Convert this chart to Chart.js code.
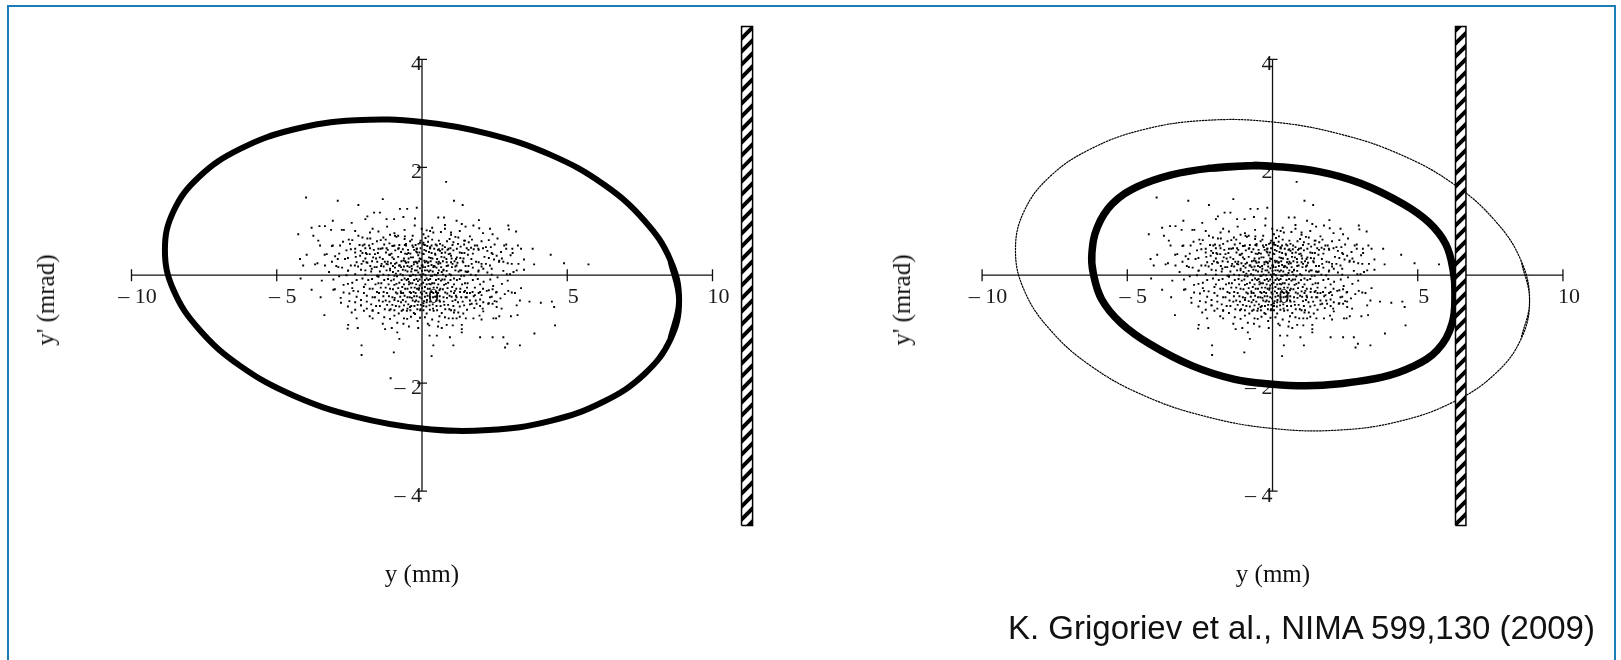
<!DOCTYPE html>
<html>
<head>
<meta charset="utf-8">
<title>Beam scraping</title>
<script src="https://cdn.jsdelivr.net/npm/chart.js"></script>
<style>
  body { margin: 0; width: 1621px; height: 660px; background: #fff; position: relative; overflow: hidden; }
  #frame { position: absolute; left: 7px; top: 5px; width: 1605px; height: 700px; border: 2px solid #1b7db5; border-bottom: none; }
  .panel { position: absolute; top: 0; }
  .ytitle, .xtitle { position: absolute; font-family: 'Liberation Serif', 'Times New Roman', serif; font-size: 25px; color: #111; white-space: nowrap; }
  .ytitle { transform: translate(-50%, -50%) rotate(-90deg); }
  .xtitle { transform: translate(-50%, -50%); }
  #cite { position: absolute; left: 1008px; top: 610px; font-family: 'Liberation Sans', Arial, sans-serif; font-size: 33px; color: #111; white-space: nowrap; line-height: 36px; }
</style>
</head>
<body>
<div id="frame"></div>
<div class="panel" style="left:0"><canvas id="leftChart" width="810" height="660"></canvas></div>
<div class="panel" style="left:810px"><canvas id="rightChart" width="811" height="660"></canvas></div>
<div class="ytitle" style="left:46px; top:300px">y' (mrad)</div>
<div class="ytitle" style="left:902px; top:300px">y' (mrad)</div>
<div class="xtitle" style="left:422px; top:574px">y (mm)</div>
<div class="xtitle" style="left:1273px; top:574px">y (mm)</div>
<div id="cite">K. Grigoriev et al., NIMA 599,130 (2009)</div>

<script>
// tick values: y in mm, y' in mrad
const xTicks = [-10, -5, 0, 5, 10];
const yTicks = [-4, -2, 0, 2, 4];

// beam ellipse before scraping (solid on the left, dotted on the right)
const ellipseInitial = [
    [8.85, -0.47], [8.55, -1.19], [7.66, -1.83], [6.26, -2.34], [4.43, -2.7], [2.29, -2.87],
    [0, -2.84], [-2.29, -2.62], [-4.43, -2.23], [-6.26, -1.68], [-7.66, -1.01], [-8.55, -0.28],
    [-8.85, 0.47], [-8.55, 1.19], [-7.66, 1.83], [-6.26, 2.34], [-4.43, 2.7], [-2.29, 2.87],
    [0, 2.84], [2.29, 2.62], [4.43, 2.23], [6.26, 1.68], [7.66, 1.01], [8.55, 0.28]
];

// ellipse after scraping (right panel, thick)
const ellipseScraped = [
    [-0.73, 2.03], [0, 2.02], [1.6, 1.92], [3.05, 1.7], [4.5, 1.32], [5.38, 0.98], [5.96, 0.58], [6.22, 0.09],
    [6.28, -0.34], [6.18, -0.9], [5.67, -1.39], [4.8, -1.7], [3.78, -1.89], [2.32, -2.01], [1.16, -2.05], [0, -2.02],
    [-1.3, -1.93], [-2.76, -1.68], [-4.21, -1.28], [-5.23, -0.88], [-5.88, -0.45], [-6.17, 0.03], [-6.22, 0.4], [-6.03, 0.89],
    [-5.52, 1.32], [-4.65, 1.64], [-3.48, 1.86], [-2.18, 1.98]
];

// scraper jaw (mm) and its vertical extent (mrad)
const jawLeftX = [11.0, 11.38];
const jawRightX = [6.3, 6.66];
const jawY = [-4.64, 4.61];

// particles, same sample in both panels
const particles = [
    [-3.99, 1.44], [-2.9, 1.38], [-2.19, 1.3], [-1.35, 1.41], [0.83, 1.73], [-4.26, 0.76], [-3.8, 0.88], [-3.53, 0.91],
    [-3.34, 0.91], [-3.07, 1.01], [-3.13, 0.84], [-2.76, 0.84], [-2.69, 0.84], [-2.42, 0.97], [-1.88, 1.09], [-1.65, 1.16],
    [-1.45, 1.16], [-1.22, 1.04], [-0.96, 1.04], [-0.76, 1.23], [-0.51, 1.23], [-0.18, 1.25], [-0.24, 1.05], [-0.64, 1.08],
    [-1.95, 1.04], [-3.74, 0.73], [-3.57, 0.64], [-3.51, 0.55], [-3.07, 0.55], [-2.82, 0.55], [-2.48, 0.58], [-2.52, 0.66],
    [-2.19, 0.73], [-1.88, 0.68], [-1.79, 0.79], [-1.5, 0.81], [-1.33, 0.7], [-1.1, 0.75], [-0.93, 0.73], [-0.82, 0.73],
    [-0.59, 0.72], [-0.32, 0.73], [-0.01, 0.86], [0.16, 0.83], [0.28, 0.82], [0.39, 0.79], [0.79, 0.86], [0.56, 1.07],
    [0.76, 1.07], [0.79, 0.93], [0.22, 0.72], [0.05, 0.6],
    [-4.2, 0.3], [-4.09, 0.18], [-3.97, 0.38], [-3.68, 0.2], [-3.28, 0.39], [-3.34, 0.18], [-2.99, 0.35], [-2.88, 0.15],
    [-2.65, 0.3], [-2.54, 0.09], [-2.13, 0.36], [-2.11, 0.45], [-2.04, 0.55], [-1.93, 0.41], [-1.79, 0.5], [-1.62, 0.39],
    [-1.54, 0.25], [-1.42, 0.49], [-1.22, 0.5], [-1.1, 0.38], [-0.99, 0.54], [-0.82, 0.49], [-0.59, 0.56], [-0.47, 0.41],
    [-0.3, 0.52], [-0.18, 0.49], [-0.07, 0.6], [0.1, 0.56], [0.28, 0.52], [0.51, 0.55], [0.62, 0.45], [0.79, 0.52],
    [0.91, 0.49], [-2.31, 0.18], [-2.08, 0.21], [-1.91, 0.24], [-1.73, 0.12], [-1.56, 0.15], [-1.39, 0.21], [-1.22, 0.21],
    [-1.1, 0.12], [-0.93, 0.21], [-0.76, 0.18], [-0.64, 0.27], [-0.47, 0.24], [-0.35, 0.12], [-0.18, 0.24], [-0.01, 0.18],
    [0.1, 0.09], [0.22, 0.24], [0.39, 0.15], [0.56, 0.21], [0.74, 0.09], [0.85, 0.24],
    [1.1, 1.38], [1.4, 1.3], [1.0, 0.79], [1.19, 1.01], [1.37, 0.95], [1.77, 0.92], [1.96, 1.02], [1.97, 0.87],
    [2.34, 0.86], [2.43, 0.76], [2.97, 0.92], [2.99, 0.85], [3.24, 0.81], [1.08, 0.61], [1.25, 0.7], [1.48, 0.64],
    [1.65, 0.72], [1.82, 0.55], [1.54, 0.5], [1.69, 0.51], [1.94, 0.49], [2.2, 0.52], [2.25, 0.45], [2.43, 0.39],
    [2.57, 0.36], [2.83, 0.55], [3.11, 0.49], [3.12, 0.41], [3.41, 0.49], [3.81, 0.49], [4.43, 0.38], [2.66, 0.27],
    [2.8, 0.25], [3.09, 0.21], [3.32, 0.21], [3.51, 0.29], [3.86, 0.2], [4.89, 0.22], [5.73, 0.2], [3.26, 0.09],
    [3.51, 0.1], [3.03, 0.02], [2.92, 0.02], [2.05, 0.21], [2.34, 0.18], [2.11, 0.12], [1.71, 0.21], [1.42, 0.24],
    [1.19, 0.18], [1.31, 0.09], [1.59, 0.07], [1.94, 0.07], [1.0, 0.36], [1.17, 0.3], [1.37, 0.41],
    [-3.8, -0.27], [-3.49, -0.41], [-3.36, -0.74], [-3.05, -0.27], [-2.79, -0.51], [-2.54, -0.92], [-2.56, -0.99], [-2.21, -0.98],
    [-2.42, -0.69], [-2.25, -0.8], [-2.1, -0.56], [-2.36, -0.29], [-2.08, -1.3], [-2.08, -1.48], [-1.7, -0.8], [-1.7, -0.66],
    [-1.35, -0.9], [-1.27, -1.0], [-1.1, -0.81], [-1.04, -0.98], [-0.85, -1.06], [-0.78, -1.18], [-0.97, -1.43], [-1.08, -1.91],
    [-0.64, -0.9], [-0.51, -0.81], [-0.24, -0.72], [-0.41, -0.59], [-0.7, -0.66], [-0.13, -0.98], [-0.07, -0.79], [0.25, -0.93],
    [0.26, -1.12], [0.51, -1.12], [0.57, -0.86], [0.68, -0.98], [0.39, -1.3], [0.33, -1.5], [0.79, -0.78], [0.85, -0.92],
    [-4.18, -0.06],
    [1.06, -0.93], [1.37, -0.92], [1.37, -1.0], [1.37, -1.06], [0.96, -1.15], [2.0, -1.15], [2.43, -1.15], [2.8, -1.15],
    [1.08, -1.3], [2.86, -1.34], [2.94, -1.27], [3.37, -1.3], [3.87, -1.08], [4.58, -0.93], [3.06, -0.76], [3.29, -0.74],
    [2.74, -0.62], [2.66, -0.76], [2.46, -0.8], [2.55, -0.8], [2.09, -0.62], [2.11, -0.67], [1.98, -0.75], [2.05, -0.82],
    [1.77, -0.8], [1.51, -0.8], [1.19, -0.8], [1.06, -0.8], [1.25, -0.69], [1.1, -0.69], [1.71, -0.53], [1.88, -0.53],
    [1.65, -0.47], [2.11, -0.5], [2.28, -0.53], [2.43, -0.53], [2.57, -0.49], [3.26, -0.56], [3.37, -0.47], [3.7, -0.49],
    [4.09, -0.51], [4.47, -0.49], [4.55, -0.59], [2.97, -0.29], [3.09, -0.32], [3.2, -0.33], [3.41, -0.24], [2.57, -0.31],
    [2.43, -0.26], [2.23, -0.29], [2.0, -0.31], [1.82, -0.37], [1.65, -0.33], [1.48, -0.29], [1.31, -0.31], [1.13, -0.29],
    [1.19, -0.41], [1.54, -0.41], [2.34, -0.41], [2.57, -0.59],
    // dense core
    [-2.05, 0.7], [-1.42, 0.65], [-0.88, 0.71], [-0.35, 0.66], [0.12, 0.69], [0.58, 0.64], [1.15, 0.71], [1.72, 0.66], [2.6, 0.68],
    [-2.72, 0.62], [-1.98, 0.57], [-1.55, 0.63], [-1.12, 0.59], [-0.78, 0.56], [-0.41, 0.63], [-0.12, 0.58], [0.21, 0.62],
    [0.47, 0.57], [0.86, 0.63], [1.24, 0.58], [1.61, 0.61], [2.05, 0.63], [2.9, 0.57],
    [-3.1, 0.54], [-2.3, 0.49], [-1.82, 0.55], [-1.36, 0.5], [-1.02, 0.54], [-0.66, 0.48], [-0.33, 0.55], [-0.05, 0.5],
    [0.18, 0.54], [0.42, 0.49], [0.71, 0.55], [0.98, 0.5], [1.33, 0.53], [1.78, 0.48], [2.37, 0.52], [3.3, 0.55],
    [-2.6, 0.46], [-2.05, 0.41], [-1.66, 0.47], [-1.24, 0.42], [-0.92, 0.46], [-0.58, 0.4], [-0.27, 0.47], [-0.09, 0.42],
    [0.14, 0.45], [0.33, 0.41], [0.55, 0.47], [0.8, 0.42], [1.08, 0.46], [1.46, 0.41], [1.95, 0.47], [2.72, 0.43],
    [-3.35, 0.38], [-2.28, 0.34], [-1.8, 0.39], [-1.45, 0.33], [-1.13, 0.38], [-0.82, 0.34], [-0.52, 0.39], [-0.31, 0.33],
    [-0.13, 0.37], [0.06, 0.39], [0.24, 0.33], [0.46, 0.38], [0.67, 0.34], [0.92, 0.39], [1.2, 0.33], [1.58, 0.38],
    [2.15, 0.34], [3.05, 0.37],
    [-2.9, 0.3], [-2.02, 0.26], [-1.58, 0.31], [-1.28, 0.25], [-0.97, 0.3], [-0.71, 0.26], [-0.46, 0.31], [-0.22, 0.25],
    [-0.04, 0.3], [0.15, 0.26], [0.36, 0.31], [0.58, 0.25], [0.84, 0.3], [1.12, 0.26], [1.43, 0.31], [1.86, 0.25], [2.48, 0.29],
    [-3.6, 0.22], [-2.45, 0.18], [-1.88, 0.23], [-1.41, 0.17], [-1.07, 0.22], [-0.79, 0.18], [-0.55, 0.23], [-0.36, 0.17],
    [-0.16, 0.22], [0.02, 0.18], [0.2, 0.23], [0.41, 0.17], [0.63, 0.22], [0.9, 0.18], [1.22, 0.23], [1.6, 0.17],
    [2.2, 0.21], [2.95, 0.22],
    [-2.75, 0.14], [-2.1, 0.1], [-1.63, 0.15], [-1.22, 0.09], [-0.93, 0.14], [-0.66, 0.1], [-0.43, 0.15], [-0.24, 0.09],
    [-0.07, 0.13], [0.11, 0.15], [0.29, 0.09], [0.5, 0.14], [0.74, 0.1], [1.03, 0.15], [1.35, 0.09], [1.75, 0.14], [2.4, 0.12],
    [-3.2, 0.06], [-2.3, 0.02], [-1.75, 0.07], [-1.33, 0.01], [-1.0, 0.06], [-0.74, 0.02], [-0.5, 0.07], [-0.31, 0.01],
    [-0.13, 0.05], [0.05, 0.02], [0.24, 0.07], [0.44, 0.01], [0.68, 0.06], [0.95, 0.02], [1.26, 0.07], [1.68, 0.01],
    [2.25, 0.05], [3.15, 0.06],
    [-2.85, -0.02], [-2.05, -0.06], [-1.55, -0.01], [-1.17, -0.07], [-0.86, -0.02], [-0.6, -0.06], [-0.38, -0.01], [-0.19, -0.07],
    [-0.02, -0.03], [0.16, -0.06], [0.35, -0.01], [0.57, -0.07], [0.82, -0.02], [1.1, -0.06], [1.45, -0.01], [1.92, -0.07], [2.6, -0.04],
    [-3.45, -0.1], [-2.4, -0.14], [-1.85, -0.09], [-1.4, -0.15], [-1.06, -0.1], [-0.78, -0.14], [-0.53, -0.09], [-0.33, -0.15],
    [-0.14, -0.11], [0.04, -0.14], [0.22, -0.09], [0.42, -0.15], [0.65, -0.1], [0.9, -0.14], [1.2, -0.09], [1.57, -0.15],
    [2.12, -0.12], [2.95, -0.1],
    [-2.7, -0.18], [-2.0, -0.22], [-1.6, -0.17], [-1.25, -0.23], [-0.95, -0.18], [-0.68, -0.22], [-0.45, -0.17], [-0.25, -0.23],
    [-0.08, -0.19], [0.1, -0.22], [0.3, -0.17], [0.52, -0.23], [0.76, -0.18], [1.04, -0.22], [1.38, -0.17], [1.82, -0.23], [2.45, -0.2],
    [-3.0, -0.26], [-2.2, -0.3], [-1.7, -0.25], [-1.32, -0.31], [-1.0, -0.26], [-0.73, -0.3], [-0.5, -0.25], [-0.29, -0.31],
    [-0.11, -0.27], [0.08, -0.3], [0.27, -0.25], [0.48, -0.31], [0.72, -0.26], [1.0, -0.3], [1.32, -0.25], [1.74, -0.31], [2.3, -0.28],
    [-2.5, -0.34], [-1.9, -0.38], [-1.48, -0.33], [-1.14, -0.39], [-0.85, -0.34], [-0.6, -0.38], [-0.38, -0.33], [-0.18, -0.39],
    [0.0, -0.35], [0.19, -0.38], [0.39, -0.33], [0.61, -0.39], [0.87, -0.34], [1.17, -0.38], [1.55, -0.33], [2.05, -0.37], [2.85, -0.35],
    [-2.8, -0.42], [-2.1, -0.46], [-1.62, -0.41], [-1.25, -0.47], [-0.94, -0.42], [-0.66, -0.46], [-0.42, -0.41], [-0.2, -0.47],
    [-0.02, -0.43], [0.17, -0.46], [0.38, -0.41], [0.6, -0.47], [0.86, -0.42], [1.15, -0.46], [1.5, -0.41], [2.0, -0.45], [2.7, -0.43],
    [-2.3, -0.5], [-1.75, -0.54], [-1.35, -0.49], [-1.02, -0.55], [-0.72, -0.5], [-0.47, -0.54], [-0.24, -0.49], [-0.04, -0.55],
    [0.16, -0.5], [0.37, -0.54], [0.62, -0.49], [0.9, -0.55], [1.24, -0.5], [1.65, -0.54], [2.3, -0.52],
    [-2.55, -0.58], [-1.9, -0.62], [-1.45, -0.57], [-1.08, -0.63], [-0.78, -0.58], [-0.5, -0.62], [-0.26, -0.57], [-0.05, -0.63],
    [0.15, -0.58], [0.38, -0.62], [0.64, -0.57], [0.94, -0.63], [1.3, -0.58], [1.8, -0.61],
    [-2.0, -0.66], [-1.5, -0.7], [-1.12, -0.65], [-0.8, -0.71], [-0.52, -0.66], [-0.28, -0.7], [-0.06, -0.65], [0.16, -0.71],
    [0.4, -0.66], [0.68, -0.7], [1.0, -0.65], [1.42, -0.71],
    [-0.9, 0.03], [-0.62, 0.16], [-0.28, 0.2], [0.08, 0.27], [0.33, 0.19], [0.55, 0.04], [0.78, -0.08], [-0.45, -0.12],
    [-0.1, -0.24], [0.25, -0.16], [0.6, -0.28], [-0.72, -0.33], [-0.35, -0.42], [0.45, -0.4], [-1.18, 0.2], [1.05, 0.21],
    [-0.2, 0.44], [0.28, 0.5], [-0.55, 0.55], [0.7, 0.48], [-0.95, -0.46], [0.05, -0.52], [0.95, -0.38], [-1.5, -0.03], [1.55, 0.06],
    // second pass over the core
    [-1.7, 0.86], [-1.2, 0.9], [-0.6, 0.84], [-0.25, 0.92], [0.35, 0.88], [0.65, 0.8], [1.3, 0.82], [1.5, 0.9], [2.1, 0.78],
    [-2.3, 0.82], [-0.95, 0.78], [0.05, 0.76], [1.0, 0.75],
    [-2.4, 0.65], [-1.78, 0.68], [-1.25, 0.66], [-0.6, 0.67], [-0.05, 0.64], [0.35, 0.66], [0.95, 0.67], [1.45, 0.64], [2.3, 0.65],
    [-2.15, 0.56], [-1.7, 0.58], [-1.3, 0.57], [-0.95, 0.55], [-0.55, 0.58], [-0.22, 0.56], [0.05, 0.57], [0.33, 0.55],
    [0.62, 0.58], [1.05, 0.56], [1.45, 0.57], [1.9, 0.55], [2.5, 0.57],
    [-2.45, 0.48], [-1.95, 0.5], [-1.5, 0.49], [-1.18, 0.47], [-0.8, 0.5], [-0.48, 0.47], [-0.18, 0.49], [0.08, 0.47],
    [0.28, 0.5], [0.58, 0.48], [0.88, 0.47], [1.2, 0.49], [1.6, 0.47], [2.1, 0.5], [2.9, 0.49],
    [-2.85, 0.4], [-2.3, 0.42], [-1.9, 0.39], [-1.52, 0.41], [-1.05, 0.4], [-0.72, 0.43], [-0.4, 0.4], [-0.17, 0.42],
    [0.02, 0.4], [0.24, 0.43], [0.45, 0.4], [0.68, 0.41], [0.97, 0.4], [1.3, 0.42], [1.75, 0.4], [2.4, 0.41],
    [-2.55, 0.32], [-1.95, 0.31], [-1.68, 0.33], [-1.35, 0.3], [-1.02, 0.33], [-0.62, 0.31], [-0.38, 0.33], [-0.08, 0.31],
    [0.3, 0.32], [0.52, 0.3], [0.77, 0.33], [1.02, 0.31], [1.32, 0.32], [1.7, 0.3], [2.3, 0.32], [2.75, 0.31],
    [-3.1, 0.25], [-2.25, 0.24], [-1.72, 0.26], [-1.18, 0.25], [-0.88, 0.23], [-0.58, 0.26], [-0.28, 0.24], [-0.1, 0.26],
    [0.1, 0.24], [0.3, 0.26], [0.5, 0.24], [0.72, 0.26], [1.0, 0.24], [1.4, 0.26], [1.95, 0.24], [2.65, 0.25],
    [-2.95, 0.17], [-2.2, 0.16], [-1.78, 0.17], [-1.32, 0.16], [-1.0, 0.17], [-0.72, 0.15], [-0.5, 0.17], [-0.15, 0.16],
    [0.03, 0.15], [0.22, 0.17], [0.44, 0.16], [0.66, 0.15], [0.85, 0.17], [1.15, 0.16], [1.5, 0.17], [2.05, 0.16],
    [-2.55, 0.08], [-1.95, 0.09], [-1.45, 0.07], [-1.1, 0.09], [-0.82, 0.08], [-0.57, 0.09], [-0.37, 0.07], [-0.18, 0.09],
    [0.0, 0.08], [0.18, 0.09], [0.37, 0.07], [0.58, 0.09], [0.85, 0.08], [1.15, 0.09], [1.5, 0.07], [1.95, 0.09], [2.8, 0.08],
    [-2.6, 0.0], [-1.95, 0.01], [-1.5, -0.01], [-1.15, 0.0], [-0.95, -0.01], [-0.66, 0.0], [-0.42, -0.01], [-0.22, 0.0],
    [-0.06, 0.01], [0.12, 0.0], [0.3, -0.01], [0.5, 0.0], [0.72, 0.01], [1.0, 0.0], [1.35, -0.01], [1.85, 0.0], [2.4, 0.01],
    [-3.05, -0.08], [-2.25, -0.09], [-1.72, -0.07], [-1.3, -0.09], [-0.97, -0.08], [-0.7, -0.09], [-0.48, -0.07], [-0.27, -0.09],
    [-0.08, -0.08], [0.1, -0.09], [0.28, -0.07], [0.48, -0.09], [0.7, -0.08], [0.98, -0.09], [1.3, -0.07], [1.75, -0.09], [2.35, -0.08],
    [-2.55, -0.16], [-1.95, -0.17], [-1.5, -0.15], [-1.15, -0.17], [-0.88, -0.16], [-0.62, -0.17], [-0.4, -0.15], [-0.2, -0.17],
    [-0.02, -0.16], [0.16, -0.17], [0.35, -0.15], [0.56, -0.17], [0.82, -0.16], [1.1, -0.17], [1.48, -0.15], [2.0, -0.17], [2.75, -0.16],
    [-2.4, -0.24], [-1.8, -0.25], [-1.42, -0.23], [-1.1, -0.25], [-0.82, -0.24], [-0.58, -0.25], [-0.37, -0.23], [-0.17, -0.25],
    [0.0, -0.24], [0.2, -0.25], [0.4, -0.23], [0.63, -0.25], [0.88, -0.24], [1.18, -0.25], [1.55, -0.23], [2.1, -0.25],
    [-2.7, -0.32], [-2.0, -0.33], [-1.55, -0.31], [-1.2, -0.33], [-0.9, -0.32], [-0.65, -0.33], [-0.42, -0.31], [-0.22, -0.33],
    [-0.04, -0.32], [0.15, -0.33], [0.34, -0.31], [0.55, -0.33], [0.8, -0.32], [1.1, -0.33], [1.45, -0.31], [1.95, -0.33], [2.55, -0.32],
    [-2.25, -0.4], [-1.7, -0.41], [-1.33, -0.39], [-1.02, -0.41], [-0.75, -0.4], [-0.5, -0.41], [-0.27, -0.39], [-0.08, -0.41],
    [0.1, -0.4], [0.28, -0.41], [0.5, -0.39], [0.74, -0.41], [1.02, -0.4], [1.35, -0.41], [1.78, -0.39], [2.4, -0.4],
    [-2.5, -0.48], [-1.9, -0.49], [-1.48, -0.47], [-1.12, -0.49], [-0.82, -0.48], [-0.56, -0.49], [-0.32, -0.47], [-0.12, -0.49],
    [0.07, -0.48], [0.27, -0.49], [0.5, -0.47], [0.75, -0.49], [1.05, -0.48], [1.4, -0.49], [1.85, -0.47], [2.5, -0.48],
    [-2.1, -0.56], [-1.58, -0.57], [-1.2, -0.55], [-0.9, -0.57], [-0.62, -0.56], [-0.37, -0.57], [-0.15, -0.55], [0.05, -0.57],
    [0.26, -0.56], [0.5, -0.57], [0.77, -0.55], [1.08, -0.57], [1.45, -0.56], [2.0, -0.57],
    [-2.3, -0.64], [-1.7, -0.65], [-1.28, -0.63], [-0.95, -0.65], [-0.65, -0.64], [-0.4, -0.65], [-0.16, -0.63], [0.05, -0.65],
    [0.27, -0.64], [0.52, -0.65], [0.8, -0.63], [1.12, -0.65], [1.55, -0.64],
    [-1.8, -0.76], [-1.3, -0.78], [-0.95, -0.75], [-0.62, -0.8], [-0.38, -0.77], [-0.15, -0.85], [0.1, -0.78], [0.35, -0.82],
    [0.6, -0.76], [0.92, -0.8], [1.3, -0.77], [-0.85, -0.88], [0.2, -0.9], [-0.45, -0.95], [0.55, -0.95]
];

const serif = "'Liberation Serif', 'Times New Roman', serif";

const toPoints = arr => arr.map(p => ({ x: p[0], y: p[1] }));
// wrap one point on each side so the spline has proper tangents at the seam
const closedLoop = arr => toPoints([arr[arr.length - 1]].concat(arr, [arr[0], arr[1]]));

function jawOutline(xs) {
    return [
        { x: xs[0], y: jawY[0] }, { x: xs[1], y: jawY[0] },
        { x: xs[1], y: jawY[1] }, { x: xs[0], y: jawY[1] },
        { x: xs[0], y: jawY[0] }
    ];
}

// diagonal hatching for the scraper jaw
function makeHatch() {
    const c = document.createElement('canvas');
    c.width = 13;
    c.height = 13;
    const g = c.getContext('2d');
    g.fillStyle = '#fff';
    g.fillRect(0, 0, 13, 13);
    g.strokeStyle = '#000';
    g.lineWidth = 4;
    g.beginPath();
    g.moveTo(-2, 15); g.lineTo(15, -2);
    g.moveTo(-4, 4); g.lineTo(4, -4);
    g.moveTo(9, 17); g.lineTo(17, 9);
    g.stroke();
    return g.createPattern(c, 'repeat');
}

function tickLabel(axis) {
    return function(value) {
        if (value === 0) return axis === 'y' ? '' : '  0';
        return value < 0 ? '\u2013 ' + (-value) : String(value);
    };
}

function axisDatasets() {
    const xLine = [{ x: xTicks[0], y: 0 }, { x: xTicks[xTicks.length - 1], y: 0 }];
    const yLine = [{ x: 0, y: yTicks[0] }, { x: 0, y: yTicks[yTicks.length - 1] }];
    return [
        { data: xLine, showLine: true, borderColor: '#111', borderWidth: 1.3, pointRadius: 0 },
        { data: yLine, showLine: true, borderColor: '#111', borderWidth: 1.3, pointRadius: 0 },
        {
            data: xTicks.filter(v => v !== 0).map(v => ({ x: v, y: 0 })),
            pointStyle: 'line', pointRotation: 90, pointRadius: 6,
            pointBorderColor: '#111', pointBorderWidth: 1.3
        },
        {
            data: yTicks.filter(v => v !== 0).map(v => ({ x: 0, y: v })),
            pointStyle: 'line', pointRotation: 0, pointRadius: 5,
            pointBorderColor: '#111', pointBorderWidth: 1.3
        }
    ];
}

function makeChart(id, datasets, xRange, padding) {
    return new Chart(document.getElementById(id), {
        type: 'scatter',
        data: { datasets: datasets },
        options: {
            responsive: false,
            animation: false,
            events: [],
            layout: { padding: padding },
            plugins: { legend: { display: false }, tooltip: { enabled: false } },
            scales: {
                x: {
                    type: 'linear',
                    min: xRange[0],
                    max: xRange[1],
                    position: { y: 0 },
                    afterFit: s => { s.height = 0; },
                    afterBuildTicks: s => { s.ticks = xTicks.map(v => ({ value: v })); },
                    grid: { display: false, drawTicks: false },
                    border: { display: false },
                    ticks: {
                        autoSkip: false,
                        maxRotation: 0,
                        padding: 9,
                        labelOffset: 6,
                        color: '#1a1a1a',
                        font: { family: serif, size: 22 },
                        callback: tickLabel('x')
                    }
                },
                y: {
                    type: 'linear',
                    min: -4.8,
                    max: 4.8,
                    position: { x: 0 },
                    afterFit: s => { s.width = 0; },
                    afterBuildTicks: s => { s.ticks = yTicks.map(v => ({ value: v })); },
                    grid: { display: false, drawTicks: false },
                    border: { display: false },
                    ticks: {
                        autoSkip: false,
                        padding: 3,
                        labelOffset: 5,
                        color: '#1a1a1a',
                        font: { family: serif, size: 22 },
                        callback: tickLabel('y')
                    }
                }
            }
        }
    });
}

const hatch = makeHatch();

function jawDataset(xs) {
    return {
        data: jawOutline(xs), showLine: true, fill: 'shape', tension: 0,
        backgroundColor: hatch, borderColor: '#000', borderWidth: 1.5, pointRadius: 0
    };
}

function ellipseDataset(pts, width, dash) {
    return {
        data: closedLoop(pts), showLine: true, tension: 0.4, fill: false,
        borderColor: '#000', borderWidth: width, borderDash: dash || [],
        borderJoinStyle: 'round', borderCapStyle: 'round', pointRadius: 0
    };
}

function particleDataset() {
    return {
        data: toPoints(particles), pointStyle: 'rect', pointRadius: 1.35,
        pointBackgroundColor: '#000', pointBorderWidth: 0
    };
}

makeChart('leftChart', [
    jawDataset(jawLeftX),
    ellipseDataset(ellipseInitial, 6),
    particleDataset()
].concat(axisDatasets()), [-12, 12], { left: 73.4, right: 39.4, top: 15.8, bottom: 125.8 });

makeChart('rightChart', [
    jawDataset(jawRightX),
    ellipseDataset(ellipseScraped, 7.5),
    ellipseDataset(ellipseInitial, 1.2, [1.5, 1.5]),
    particleDataset()
].concat(axisDatasets()), [-12, 11], { left: 114, right: 29, top: 15.8, bottom: 125.8 });
</script>
</body>
</html>
